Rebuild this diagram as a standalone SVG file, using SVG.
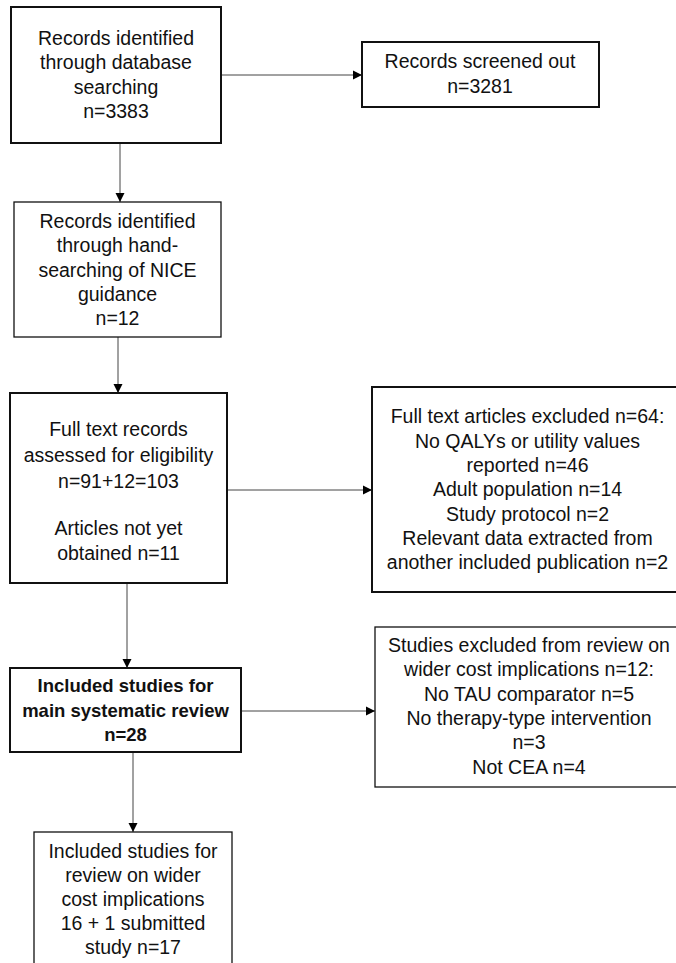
<svg xmlns="http://www.w3.org/2000/svg" width="676" height="963" viewBox="0 0 676 963">
<style>
.box{fill:#fff;stroke:#111}
.thick{stroke-width:2}
.thin{stroke-width:1.3}
text{font-family:"Liberation Sans",Arial,sans-serif;font-size:19.5px;fill:#111;text-anchor:middle}
.b{font-weight:bold;font-size:18.5px}
.con{stroke:#444;stroke-width:1;fill:none;marker-end:url(#ah)}
</style>
<defs>
<marker id="ah" markerWidth="10" markerHeight="10" refX="9" refY="5" orient="auto" markerUnits="userSpaceOnUse">
<path d="M0,0.5 L9,5 L0,9.5 Z" fill="#000"/>
</marker>
</defs>
<rect width="676" height="963" fill="#fff"/>
<g id="connectors">
<line class="con" x1="221" y1="75" x2="362" y2="75"/>
<line class="con" x1="120" y1="143" x2="120" y2="202"/>
<line class="con" x1="118" y1="337" x2="118" y2="393"/>
<line class="con" x1="227" y1="490" x2="372" y2="490"/>
<line class="con" x1="127" y1="583" x2="127" y2="668"/>
<line class="con" x1="241" y1="711" x2="375" y2="711"/>
<line class="con" x1="133" y1="752" x2="133" y2="832"/>
</g>
<g id="n1">
<rect class="box thick" x="11" y="7" width="210" height="136"/>
<text x="116" y="45">Records identified</text>
<text x="116" y="69">through database</text>
<text x="116" y="94">searching</text>
<text x="116" y="118">n=3383</text>
</g>
<g id="n2">
<rect class="box thick" x="362" y="42" width="237" height="65"/>
<text x="480" y="68">Records screened out</text>
<text x="480" y="93">n=3281</text>
</g>
<g id="n3">
<rect class="box thin" x="14" y="202" width="207" height="135"/>
<text x="117.5" y="228">Records identified</text>
<text x="117.5" y="252">through hand-</text>
<text x="117.5" y="277">searching of NICE</text>
<text x="117.5" y="301">guidance</text>
<text x="117.5" y="325">n=12</text>
</g>
<g id="n4">
<rect class="box thick" x="10" y="393" width="217" height="190"/>
<text x="118.5" y="436">Full text records</text>
<text x="118.5" y="462">assessed for eligibility</text>
<text x="118.5" y="488">n=91+12=103</text>
<text x="118.5" y="535">Articles not yet</text>
<text x="118.5" y="560">obtained  n=11</text>
</g>
<g id="n5">
<rect class="box thick" x="372" y="387" width="310" height="205"/>
<text x="527.5" y="423">Full text articles excluded n=64:</text>
<text x="527.5" y="448">No QALYs or utility values</text>
<text x="527.5" y="472">reported n=46</text>
<text x="527.5" y="496">Adult population n=14</text>
<text x="527.5" y="521">Study protocol n=2</text>
<text x="527.5" y="545">Relevant data extracted from</text>
<text x="527.5" y="569">another included publication n=2</text>
</g>
<g id="n6">
<rect class="box thick" x="10" y="668" width="231" height="84"/>
<text class="b" x="125.5" y="692">Included studies for</text>
<text class="b" x="125.5" y="717">main systematic review</text>
<text class="b" x="125.5" y="741">n=28</text>
</g>
<g id="n7">
<rect class="box thin" x="375" y="627" width="310" height="160"/>
<text x="529" y="652">Studies excluded from review on</text>
<text x="529" y="676">wider cost implications n=12:</text>
<text x="529" y="701">No TAU comparator n=5</text>
<text x="529" y="725">No therapy-type intervention</text>
<text x="529" y="749">n=3</text>
<text x="529" y="774">Not CEA n=4</text>
</g>
<g id="n8">
<rect class="box thin" x="34" y="832" width="198" height="140"/>
<text x="133" y="858">Included studies for</text>
<text x="133" y="882">review on wider</text>
<text x="133" y="906">cost implications</text>
<text x="133" y="930">16 + 1 submitted</text>
<text x="133" y="954">study n=17</text>
</g>
</svg>
